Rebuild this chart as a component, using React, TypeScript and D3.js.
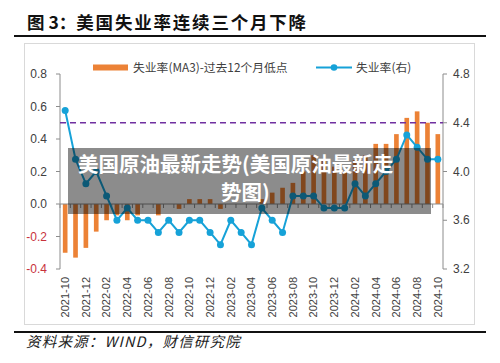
import React from "react";
import * as d3 from "d3";

const months = [
  "2021-10","2021-11","2021-12","2022-01","2022-02","2022-03","2022-04","2022-05","2022-06",
  "2022-07","2022-08","2022-09","2022-10","2022-11","2022-12","2023-01","2023-02","2023-03",
  "2023-04","2023-05","2023-06","2023-07","2023-08","2023-09","2023-10","2023-11","2023-12",
  "2024-01","2024-02","2024-03","2024-04","2024-05","2024-06","2024-07","2024-08","2024-09","2024-10",
];
const unemployment = [
  4.5,4.1,3.9,4.0,3.8,3.6,3.7,3.6,3.6,3.5,3.6,3.5,3.6,3.6,3.5,3.4,3.6,3.5,
  3.4,3.7,3.6,3.5,3.8,3.8,3.8,3.7,3.7,3.7,3.9,3.8,3.9,4.0,4.1,4.3,4.2,4.1,4.1,
];
const gapFromLow = [
  -0.30,-0.33,-0.27,-0.17,-0.10,-0.07,-0.10,-0.07,0,-0.07,0,-0.03,0.03,0.03,0.03,-0.03,0,0,
  0,0.03,0.07,0.10,0.13,0.20,0.30,0.27,0.23,0.20,0.27,0.30,0.37,0.37,0.43,0.53,0.57,0.50,0.43,
];
const leftTicks = [-0.4, -0.2, 0.0, 0.2, 0.4, 0.6, 0.8];
const rightTicks = [3.2, 3.6, 4.0, 4.4, 4.8];
const threshold = 0.5;
const titleLead = "图 3：";
const titleText = "美国失业率连续三个月下降";
const barLegend = "失业率(MA3)-过去12个月低点";
const lineLegend = "失业率(右)";
const sourceText = "资料来源：WIND，财信研究院";
const overlayLine1 = "美国原油最新走势(美国原油最新走";
const overlayLine2 = "势图)";

const L = 60, R = 443, T = 74, B = 269;
const ORANGE = "#EC8236";
const BLUE = "#16A2D8";
const CJK = "'Noto Sans CJK SC', sans-serif";
const NUM = "'Liberation Sans', Arial, sans-serif";

export default function App() {
  const x = d3.scaleBand<string>().domain(months).range([L, R]).paddingInner(0.55).paddingOuter(0.275);
  const yL = d3.scaleLinear().domain([-0.4, 0.8]).range([B, T]);
  const yR = d3.scaleLinear().domain([3.2, 4.8]).range([B, T]);
  const cx = (m: string) => (x(m) as number) + x.bandwidth() / 2;
  const step = x.step();
  const line = d3.line<number>().x((_, i) => cx(months[i])).y((v) => yR(v));
  const y0 = yL(0);

  return (
    <svg width={500} height={363} style={{ position: "absolute", left: 0, top: 0, background: "#fff" }}>
      <rect x={0} y={0} width={500} height={363} fill="#fff" />
      <text x={27} y={29} fontFamily={CJK} fontWeight={700} fontSize={17.5} fill="#111">
        <tspan>{titleLead}</tspan>
        <tspan letterSpacing={1.8} fontWeight={600}>{titleText}</tspan>
      </text>
      <line x1={14} x2={486} y1={36} y2={36} stroke="#111" strokeWidth={2} />
      <rect x={24.5} y={43.5} width={450} height={281} fill="#fff" stroke="#d9d9d9" />

      {/* legend */}
      <rect x={93} y={64.5} width={35} height={6} fill={ORANGE} />
      <text x={133} y={71.5} fontFamily={CJK} fontSize={11.8} fill="#404040">{barLegend}</text>
      <line x1={316} x2={352} y1={67.5} y2={67.5} stroke={BLUE} strokeWidth={2} />
      <circle cx={334} cy={67.5} r={3.3} fill={BLUE} />
      <text x={356} y={71.5} fontFamily={CJK} fontSize={11.8} fill="#404040">{lineLegend}</text>

      {/* left axis */}
      <line x1={L} x2={L} y1={T} y2={B} stroke="#8c8c8c" />
      {leftTicks.map((t) => (
        <g key={t}>
          <line x1={L - 4} x2={L} y1={yL(t)} y2={yL(t)} stroke="#8c8c8c" />
          <text x={47} y={yL(t)} dy="0.35em" textAnchor="end" fontFamily={NUM} fontSize={12}
            fill={t < 0 ? "#C8323C" : "#404040"}>{t.toFixed(1)}</text>
        </g>
      ))}
      {/* right axis */}
      <line x1={R} x2={R} y1={T} y2={B} stroke="#8c8c8c" />
      {rightTicks.map((t) => (
        <g key={t}>
          <line x1={R} x2={R + 4} y1={yR(t)} y2={yR(t)} stroke="#8c8c8c" />
          <text x={453} y={yR(t)} dy="0.35em" fontFamily={NUM} fontSize={12} fill="#404040">{t.toFixed(1)}</text>
        </g>
      ))}

      {/* bars */}
      {gapFromLow.map((v, i) => (
        <rect key={i} x={x(months[i])} width={x.bandwidth()}
          y={Math.min(yL(v), y0)} height={Math.abs(yL(v) - y0)} fill={ORANGE} />
      ))}

      {/* zero axis */}
      <line x1={L} x2={R} y1={y0} y2={y0} stroke="#8c8c8c" />
      {d3.range(months.length + 1).map((i) => (
        <line key={i} x1={L + i * step} x2={L + i * step} y1={y0} y2={y0 + 4} stroke="#8c8c8c" />
      ))}

      {/* threshold */}
      <line x1={L} x2={R} y1={yL(threshold)} y2={yL(threshold)} stroke="#7030A0" strokeWidth={1.5} strokeDasharray="6,4" />

      {/* line */}
      <path d={line(unemployment) || ""} fill="none" stroke={BLUE} strokeWidth={2} />
      {unemployment.map((v, i) => (
        <circle key={i} cx={cx(months[i])} cy={yR(v)} r={3.5} fill={BLUE} />
      ))}

      {/* x labels */}
      {months.map((m, i) => i % 2 === 0 ? (
        <text key={m} transform={`translate(${cx(m)},277) rotate(-90)`} textAnchor="end" dy="0.35em"
          fontFamily={NUM} fontSize={11} fill="#404040">{m}</text>
      ) : null)}

      {/* overlay */}
      <rect x={68} y={148} width={363} height={66} fill="#000" fillOpacity={0.45} />
      <text x={78} y={172} fontFamily={CJK} fontWeight={700} fontSize={20.5} fill="#fff">{overlayLine1}</text>
      <text x={221} y={200} fontFamily={CJK} fontWeight={700} fontSize={20.5} fill="#fff">{overlayLine2}</text>

      <line x1={14} x2={486} y1={332} y2={332} stroke="#111" strokeWidth={2} />
      <text x={26} y={347} fontFamily={CJK} fontStyle="italic" fontSize={14.5} fill="#222" letterSpacing={1.2}>{sourceText}</text>
    </svg>
  );
}
